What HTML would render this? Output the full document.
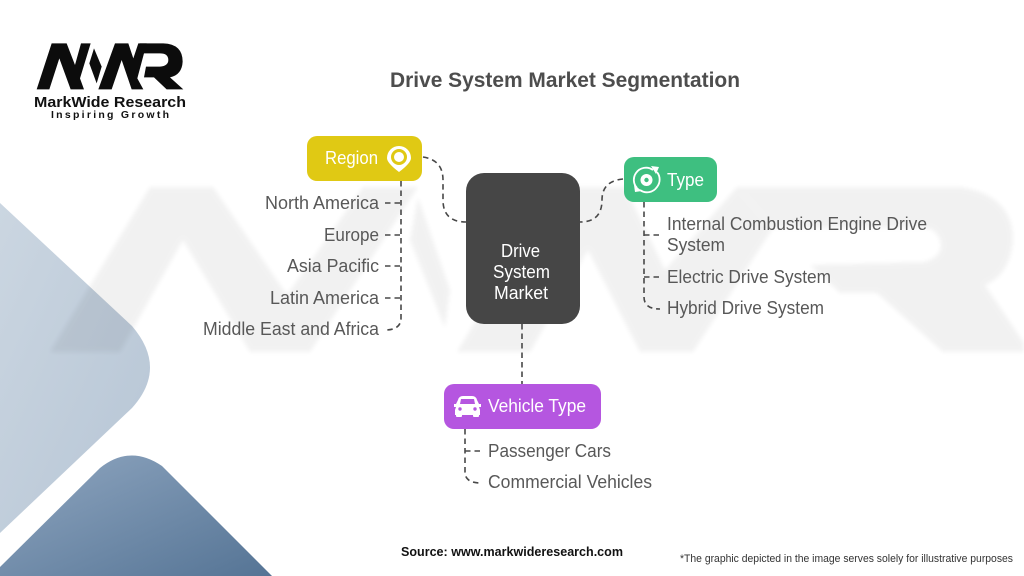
<!DOCTYPE html>
<html><head><meta charset="utf-8"><style>
html,body{margin:0;padding:0;background:#fff}
svg{display:block}
text{font-family:"Liberation Sans",sans-serif}
.l{font-size:18px;fill:#585858}
.w{font-size:18px;fill:#fff}
.d{fill:none;stroke:#484848;stroke-width:1.6;stroke-dasharray:5.500 4}
</style></head><body>
<svg width="1024" height="576" viewBox="0 0 1024 576" xmlns="http://www.w3.org/2000/svg">
<defs>
<linearGradient id="a" x1="0" y1="0" x2="1" y2="1"><stop offset="0" stop-color="#cbd6e1"/><stop offset="1" stop-color="#b6c5d5"/></linearGradient>
<linearGradient id="b" x1="0" y1="0" x2="1" y2="1"><stop offset="0" stop-color="#8fa6c0"/><stop offset="1" stop-color="#557495"/></linearGradient>
<filter id="s" x="-5%" y="-5%" width="110%" height="110%"><feGaussianBlur stdDeviation="2.500"/></filter>
</defs>
<!-- background shapes -->
<path d="M0 203 L132 326 Q168 368 132 408 L0 533Z" fill="url(#a)"/>
<path d="M0 567 L100 468 Q130 444 162 466 L272 576 L0 576Z" fill="url(#b)"/>
<!-- watermark -->
<g fill="#000" opacity=".05" filter="url(#s)">
<path d="M50 352 L150 187 L213 187 L287 295 L363 187 L418 187 L310 352 L250 352 L183 240 L120 352Z"/>
<path d="M418 197 L450 290 L445 328 L410 240Z"/>
<path d="M457 352 L555 187 L625 187 L665 270 L737 187 L773 228 L693 352 L640 352 L588 250 L530 352Z"/>
<path d="M737 187 L960 187 Q1013 195 1013 240 Q1010 275 985 285 L1024 343 L1024 352 L943 352 L877 293 L840 293 L810 265 L925 262 Q945 255 940 240 Q935 228 925 228 L773 228Z"/>
</g>
<!-- logo -->
<g fill="#0c0c0c" transform="translate(0 20) scale(.3333)">
<path d="M110 208 L155 70 L200 70 L225 135 L243 70 L272 70 L240 175 L252 208 L212 208 L178 115 L148 208Z"/>
<path d="M282 85 L305 140 L290 190 L268 130Z"/>
<path d="M295 208 L345 70 L385 70 L400 115 L415 70 L440 70 L412 175 L430 208 L395 208 L365 120 L335 208Z"/>
<path d="M420 70 L490 70 Q548 72 548 125 Q546 165 510 172 L550 208 L500 208 L462 172 L432 172 L438 140 L480 140 Q505 138 505 120 Q505 100 480 100 L412 100Z"/>
</g>
<text x="34" y="107" font-size="14.500" font-weight="bold" fill="#111" textLength="152" lengthAdjust="spacingAndGlyphs">MarkWide Research</text>
<text x="51" y="118" font-size="10.500" font-weight="bold" fill="#111" textLength="118" lengthAdjust="spacing">Inspiring Growth</text>
<!-- title -->
<text x="390" y="87" font-size="21.500" font-weight="bold" fill="#4d4d4d" textLength="350" lengthAdjust="spacingAndGlyphs">Drive System Market Segmentation</text>
<!-- connectors -->
<path class="d" d="M423 157 Q443 160 443 180 L443 200 Q443 222 466 222"/>
<path class="d" d="M623 179 Q602 181 602 200 Q602 222 580 222"/>
<path class="d" d="M522 324 L522 384"/>
<path class="d" d="M401 181 L401 318 Q401 330 385 330"/>
<path class="d" d="M385 203 L401 203 M385 235 L401 235 M385 266 L401 266 M385 298 L401 298"/>
<path class="d" d="M644 202 L644 297 Q644 309 660 309"/>
<path class="d" d="M644 235 L660 235 M644 277 L660 277"/>
<path class="d" d="M465 429 L465 472 Q465 483 481 483"/>
<path class="d" d="M465 451 L481 451"/>
<!-- nodes -->
<rect x="466" y="173" width="114" height="151" rx="18" fill="#464646"/>
<rect x="307" y="136" width="115" height="45" rx="10" fill="#e0c914"/>
<rect x="624" y="157" width="93" height="45" rx="10" fill="#3ebf80"/>
<rect x="444" y="384" width="157" height="45" rx="10" fill="#b556e0"/>
<!-- center text -->
<text class="w" x="501" y="257" textLength="39" lengthAdjust="spacingAndGlyphs">Drive</text>
<text class="w" x="493" y="278" textLength="57" lengthAdjust="spacingAndGlyphs">System</text>
<text class="w" x="494" y="299" textLength="54" lengthAdjust="spacingAndGlyphs">Market</text>
<!-- headers -->
<text class="w" x="325" y="164" textLength="53" lengthAdjust="spacingAndGlyphs">Region</text>
<text class="w" x="667" y="186" textLength="37" lengthAdjust="spacingAndGlyphs">Type</text>
<text class="w" x="488" y="412" textLength="98" lengthAdjust="spacingAndGlyphs">Vehicle Type</text>
<!-- region icon -->
<path d="M399 172 Q387 163 387 158 A12 12 0 1 1 411 158 Q411 163 399 172Z" fill="#fff"/>
<circle cx="399" cy="157" r="6.500" fill="none" stroke="#e0c914" stroke-width="3"/>
<circle cx="399" cy="157" r="6.500" fill="none" stroke="#e0c914" stroke-width="2" stroke-dasharray="3 3"/>
<!-- type icon -->
<g fill="none" stroke="#fff" stroke-width="1.800">
<path d="M653 170 A12 12 0 0 0 636 173 A12 12 0 0 0 637 188"/>
<path d="M640 190 A12 12 0 0 0 657 187 A12 12 0 0 0 657 172"/>
</g>
<path d="M651 166 L659 167 L656 174Z M634 185 L642 191 L635 192Z" fill="#fff"/>
<circle cx="646.500" cy="180" r="6" fill="#fff"/><circle cx="646.500" cy="180" r="2.200" fill="#3ebf80"/>
<!-- car icon -->
<path d="M458 400 Q459 396 463 396 L472 396 Q476 396 477 400 L479 404 L481 404 L481 407 L479 407 L480 410 L480 415 L455 415 L455 410 L456 407 L454 407 L454 404 L456 404Z" fill="#fff"/>
<rect x="456" y="414" width="6" height="3" rx="1" fill="#fff"/><rect x="473" y="414" width="6" height="3" rx="1" fill="#fff"/>
<path d="M460 404 L461 399 L474 399 L475 404Z" fill="#b556e0"/>
<circle cx="460" cy="409" r="1.700" fill="#b556e0"/><circle cx="475" cy="409" r="1.700" fill="#b556e0"/>
<!-- labels -->
<text class="l" x="265" y="209" textLength="114" lengthAdjust="spacingAndGlyphs">North America</text>
<text class="l" x="324" y="241" textLength="55" lengthAdjust="spacingAndGlyphs">Europe</text>
<text class="l" x="287" y="272" textLength="92" lengthAdjust="spacingAndGlyphs">Asia Pacific</text>
<text class="l" x="270" y="304" textLength="109" lengthAdjust="spacingAndGlyphs">Latin America</text>
<text class="l" x="203" y="335" textLength="176" lengthAdjust="spacingAndGlyphs">Middle East and Africa</text>
<text class="l" x="667" y="230" textLength="260" lengthAdjust="spacingAndGlyphs">Internal Combustion Engine Drive</text>
<text class="l" x="667" y="251" textLength="58" lengthAdjust="spacingAndGlyphs">System</text>
<text class="l" x="667" y="283" textLength="164" lengthAdjust="spacingAndGlyphs">Electric Drive System</text>
<text class="l" x="667" y="314" textLength="157" lengthAdjust="spacingAndGlyphs">Hybrid Drive System</text>
<text class="l" x="488" y="457" textLength="123" lengthAdjust="spacingAndGlyphs">Passenger Cars</text>
<text class="l" x="488" y="488" textLength="164" lengthAdjust="spacingAndGlyphs">Commercial Vehicles</text>
<!-- footer -->
<text x="401" y="556" font-size="13" font-weight="bold" fill="#111" textLength="222" lengthAdjust="spacingAndGlyphs">Source: www.markwideresearch.com</text>
<text x="680" y="562" font-size="11" fill="#333" textLength="333" lengthAdjust="spacingAndGlyphs">*The graphic depicted in the image serves solely for illustrative purposes</text>
</svg>
</body></html>
